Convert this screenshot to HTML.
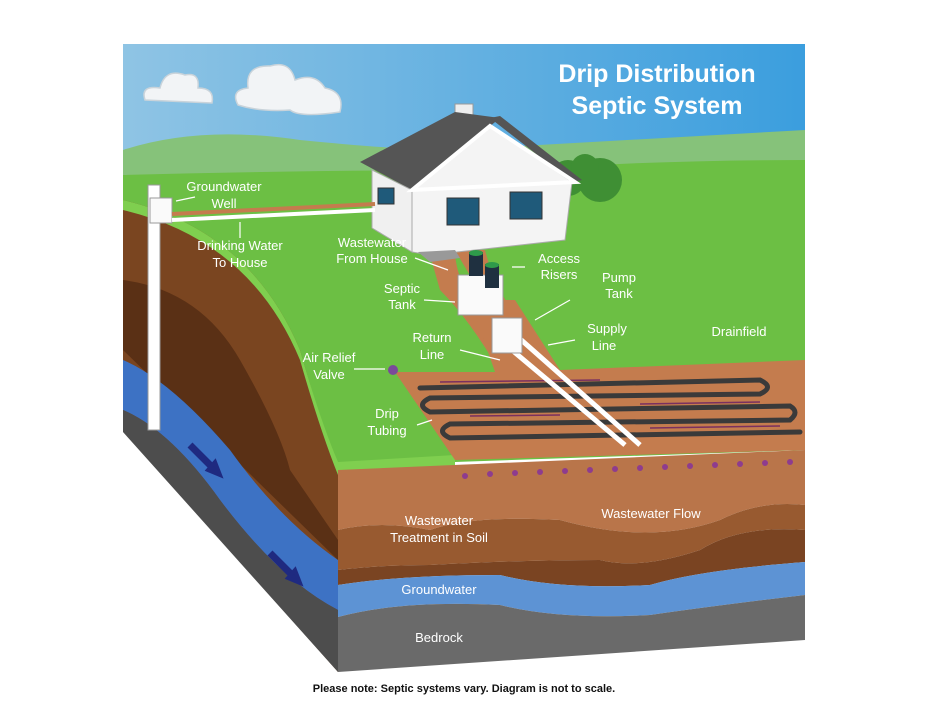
<!DOCTYPE html>
<html><head><meta charset="utf-8"><style>
body{margin:0;background:#fff}
svg{display:block}
text{font-family:"Liberation Sans",sans-serif;fill:#fff;font-size:13px;text-anchor:middle}
.t{font-size:25px;font-weight:bold}
</style></head><body>
<svg width="928" height="717" viewBox="0 0 928 717">
<defs><linearGradient id="sky" x1="0" y1="0" x2="1" y2="0"><stop offset="0" stop-color="#8fc4e4"/><stop offset="1" stop-color="#3b9ede"/></linearGradient></defs>
<rect x="123" y="44" width="682" height="200" fill="url(#sky)"/>
<path d="M123 150 Q200 125 300 140 Q400 150 450 150 L805 130 L805 240 L123 240Z" fill="#86c27a"/>
<path d="M123 175 Q300 170 520 170 Q650 160 805 160 L805 450 L455 462 L338 470 L123 430Z" fill="#6cbf44"/>
<g fill="#f2f4f6" stroke="#c9d3da" stroke-width="1.5">
<path d="M145 100 Q140 85 160 88 Q165 68 185 75 Q200 72 198 88 Q215 88 212 103 Z"/>
<path d="M238 105 Q230 90 248 88 Q245 65 270 66 Q290 60 295 80 Q315 72 325 88 Q345 92 340 112 Q300 118 290 110 Q260 112 238 105Z"/>
</g>
<circle cx="568" cy="178" r="18" fill="#3f8f34"/><circle cx="600" cy="180" r="22" fill="#3f8f34"/><circle cx="585" cy="168" r="14" fill="#3f8f34"/>
<path d="M123 200 Q250 230 300 350 Q320 420 338 470 L338 672 L123 430Z" fill="#7a4520"/>
<path d="M123 280 Q200 290 240 360 Q280 430 290 470 L338 540 L338 560 L123 350Z" fill="#5a3015"/>
<path d="M123 360 Q170 380 230 450 Q280 520 338 560 L338 610 Q280 580 220 500 Q170 430 123 410Z" fill="#3d72c4"/>
<path d="M123 410 Q170 430 220 500 Q280 580 338 610 L338 672 L123 432Z" fill="#4d4d4d"/>
<path d="M190 445 L215 470 M270 553 L295 578" stroke="#1f2a80" stroke-width="7"/>
<path d="M208 470 L220 475 L215 462Z M288 578 L300 583 L295 570Z" fill="#1f2a80" stroke="#1f2a80" stroke-width="4"/>
<path d="M123 200 Q250 230 300 350 Q320 420 338 462 L455 455 L455 470 L338 475 Q320 430 300 360 Q250 240 123 210Z" fill="#7fcf4f"/>
<path d="M338 470 L805 450 L805 505 Q760 500 720 520 Q650 545 560 520 Q470 515 430 530 Q380 520 338 530Z" fill="#b9754a"/>
<path d="M338 530 Q380 520 430 530 Q470 515 560 520 Q650 545 720 520 Q760 500 805 505 L805 530 Q740 525 700 550 Q640 570 600 560 Q520 560 430 565 Q380 565 338 570Z" fill="#985a30"/>
<path d="M338 570 Q380 565 430 565 Q520 560 600 560 Q640 570 700 550 Q740 525 805 530 L805 562 Q700 570 650 585 Q560 590 500 575 Q400 575 338 585Z" fill="#7a4422"/>
<path d="M338 585 Q400 575 500 575 Q560 590 650 585 Q700 570 805 562 L805 595 Q720 605 650 615 Q560 620 500 605 Q400 600 338 617Z" fill="#5d93d4"/>
<path d="M338 617 Q400 600 500 605 Q560 620 650 615 Q720 605 805 595 L805 640 L338 672Z" fill="#6a6a6a"/>
<!-- path from house to tank -->
<path d="M430 255 L455 255 Q460 300 500 325 L520 335 L540 370 L500 372 Q470 320 440 290Z" fill="#c47c4e"/>
<path d="M455 250 Q475 285 505 330 L525 330 Q495 290 485 250Z" fill="#c47c4e"/>
<path d="M395 372 L495 372 L470 300 L515 300 L560 370 L805 360 L805 450 L455 460Z" fill="#c47c4e"/>
<g fill="none" stroke="#3a3a3a" stroke-width="5" stroke-linecap="round">
<path d="M420 388 L760 380 Q775 387 760 394 L430 398 Q415 405 430 412 L790 406 Q800 412 790 420 L450 424 Q435 431 450 438 L800 432"/>
</g>
<g fill="none" stroke="#7a3060" stroke-width="1.5"><path d="M440 382 L600 380 M640 404 L760 402 M470 416 L560 415 M650 428 L780 426"/></g>
<path d="M510 330 L640 445 M500 340 L625 445" stroke="#fff" stroke-width="5"/>
<g fill="#8e3c8e"><circle cx="465" cy="476" r="3"/><circle cx="490" cy="474" r="3"/><circle cx="515" cy="473" r="3"/><circle cx="540" cy="472" r="3"/><circle cx="565" cy="471" r="3"/><circle cx="590" cy="470" r="3"/><circle cx="615" cy="469" r="3"/><circle cx="640" cy="468" r="3"/><circle cx="665" cy="467" r="3"/><circle cx="690" cy="466" r="3"/><circle cx="715" cy="465" r="3"/><circle cx="740" cy="464" r="3"/><circle cx="765" cy="463" r="3"/><circle cx="790" cy="462" r="3"/></g>
<!-- house -->
<rect x="455" y="104" width="18" height="14" fill="#eee" stroke="#999"/>
<polygon points="360,162 455,112 500,118 412,190" fill="#555"/>
<polygon points="490,118 500,116 582,180 572,182" fill="#555"/>
<polygon points="372,170 412,190 412,252 372,228" fill="#f0f0f0" stroke="#aaa"/>
<polygon points="412,190 490,126 572,182 565,240 430,255 412,252" fill="#f4f4f4" stroke="#aaa"/>
<polygon points="412,190 490,126 575,182" fill="none" stroke="#fff" stroke-width="4"/>
<path d="M418 252 L430 262 L460 258 L455 250Z" fill="#999"/>
<rect x="447" y="198" width="32" height="27" fill="#1f5a7a" stroke="#333"/>
<rect x="510" y="192" width="32" height="27" fill="#1f5a7a" stroke="#333"/>
<rect x="378" y="188" width="16" height="16" fill="#1f5a7a" stroke="#333"/>
<rect x="458" y="275" width="45" height="40" fill="#fafafa" stroke="#999"/>
<rect x="492" y="318" width="30" height="35" fill="#fafafa" stroke="#999"/>
<rect x="469" y="252" width="14" height="24" fill="#1f3040"/><ellipse cx="476" cy="253" rx="7" ry="3" fill="#2e9a4a"/>
<rect x="485" y="264" width="14" height="24" fill="#1f3040"/><ellipse cx="492" cy="265" rx="7" ry="3" fill="#2e9a4a"/>
<rect x="148" y="185" width="12" height="245" fill="#fff" stroke="#999"/>
<rect x="150" y="198" width="22" height="25" fill="#fafafa" stroke="#999"/>
<path d="M172 220 L375 210" stroke="#fff" stroke-width="4"/>
<path d="M172 214 L375 204" stroke="#c47c4e" stroke-width="4"/>
<circle cx="393" cy="370" r="5" fill="#7a4a9a"/>
<g stroke="#fff" stroke-width="1.2"><path d="M176 201 L195 197 M240 222 L240 238 M415 258 L448 270 M424 300 L455 302 M512 267 L525 267 M535 320 L570 300 M548 345 L575 340 M460 350 L500 360 M354 369 L385 369 M417 425 L432 420"/></g>
<text class="t" x="657" y="82">Drip Distribution</text>
<text class="t" x="657" y="114">Septic System</text>
<text x="224" y="191">Groundwater</text><text x="224" y="208">Well</text>
<text x="240" y="250">Drinking Water</text><text x="240" y="267">To House</text>
<text x="372" y="247">Wastewater</text><text x="372" y="263">From House</text>
<text x="559" y="263">Access</text><text x="559" y="279">Risers</text>
<text x="619" y="282">Pump</text><text x="619" y="298">Tank</text>
<text x="402" y="293">Septic</text><text x="402" y="309">Tank</text>
<text x="607" y="333">Supply</text><text x="604" y="350">Line</text>
<text x="739" y="336">Drainfield</text>
<text x="432" y="342">Return</text><text x="432" y="359">Line</text>
<text x="329" y="362">Air Relief</text><text x="329" y="379">Valve</text>
<text x="387" y="418">Drip</text><text x="387" y="435">Tubing</text>
<text x="651" y="518">Wastewater Flow</text>
<text x="439" y="525">Wastewater</text><text x="439" y="542">Treatment in Soil</text>
<text x="439" y="594">Groundwater</text>
<text x="439" y="642">Bedrock</text>
<text x="464" y="692" style="fill:#111;font-size:11px;font-weight:bold">Please note: Septic systems vary. Diagram is not to scale.</text>
</svg>
</body></html>
